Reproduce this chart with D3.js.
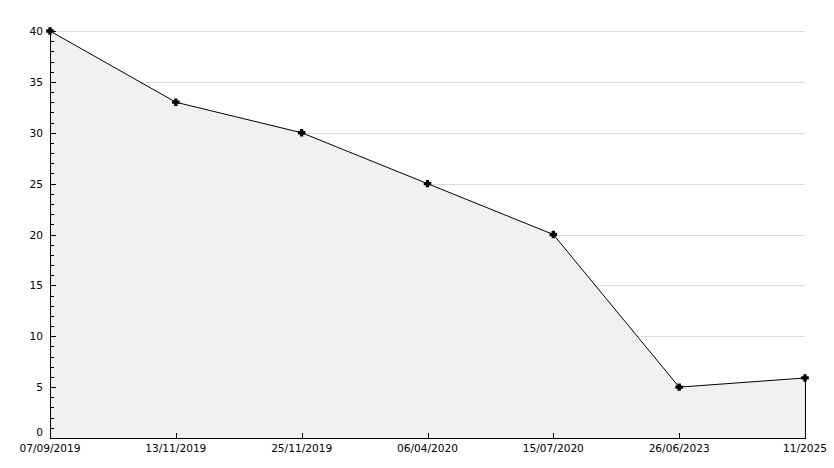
<!DOCTYPE html>
<html>
<head>
<meta charset="utf-8">
<script src="https://cdn.jsdelivr.net/npm/d3@7"></script>
<style>
html,body{margin:0;padding:0;background:#fff;}
svg{display:block;}
text{font-family:"DejaVu Sans",sans-serif;font-size:10.6px;fill:#000;}
</style>
</head>
<body>
<svg id="chart" width="834" height="468"></svg>
<script>
const categories = ["07/09/2019","13/11/2019","25/11/2019","06/04/2020","15/07/2020","26/06/2023","11/2025"];
const values = [40, 33, 30, 25, 20, 5, 5.9];
const yTicks = [0,5,10,15,20,25,30,35,40];

(function(){
const svg = d3.select("#chart");
const mLeft = 50, mRight = 805, mTop = 31, mBottom = 438;

const x = d3.scalePoint().domain(categories).range([mLeft, mRight]);
const y = d3.scaleLinear().domain([0, 40]).range([mBottom, mTop]);

// gridlines
svg.append("g").selectAll("line").data(yTicks.filter(d => d > 0)).join("line")
  .attr("x1", mLeft).attr("x2", mRight)
  .attr("y1", d => Math.round(y(d)) + 0.5).attr("y2", d => Math.round(y(d)) + 0.5)
  .attr("stroke", "#dcdcdc").attr("stroke-width", 1);

const data = categories.map((c, i) => ({c, v: values[i]}));

// area
const area = d3.area().x(d => x(d.c)).y0(y(0)).y1(d => y(d.v));
svg.append("path").datum(data).attr("d", area).attr("fill", "#f1f1f1");

// right edge
const lastX = x(categories[categories.length-1]);
svg.append("line")
  .attr("x1", lastX + 0.5).attr("x2", lastX + 0.5)
  .attr("y1", y(values[values.length-1])).attr("y2", y(0))
  .attr("stroke", "#000");

// line
const line = d3.line().x(d => x(d.c)).y(d => y(d.v));
svg.append("path").datum(data).attr("d", line).attr("fill", "none").attr("stroke", "#000").attr("stroke-width", 1);

// y axis
const yAxisG = svg.append("g");
yAxisG.append("line").attr("x1", mLeft + 0.5).attr("x2", mLeft + 0.5).attr("y1", mTop).attr("y2", mBottom).attr("stroke", "#000");
const minor = d3.range(0, 41, 1).filter(d => d % 5 !== 0);
yAxisG.selectAll(".minor").data(minor).join("line").attr("class","minor")
  .attr("x1", mLeft).attr("x2", mLeft + 4)
  .attr("y1", d => Math.round(y(d)) + 0.5).attr("y2", d => Math.round(y(d)) + 0.5)
  .attr("stroke", "#000");
yAxisG.selectAll(".major").data(yTicks).join("line").attr("class","major")
  .attr("x1", mLeft).attr("x2", mLeft + 6)
  .attr("y1", d => Math.round(y(d)) + 0.5).attr("y2", d => Math.round(y(d)) + 0.5)
  .attr("stroke", "#000");
yAxisG.selectAll("text").data(yTicks).join("text")
  .attr("x", mLeft - 7).attr("y", d => d === 0 ? y(d) - 2 : y(d) + 4)
  .attr("text-anchor", "end")
  .text(d => d);

// x axis
const xAxisG = svg.append("g");
xAxisG.append("line").attr("x1", mLeft).attr("x2", mRight + 1).attr("y1", mBottom + 0.5).attr("y2", mBottom + 0.5).attr("stroke", "#000");
xAxisG.selectAll(".xt").data(categories).join("line").attr("class","xt")
  .attr("x1", d => Math.round(x(d)) + 0.5).attr("x2", d => Math.round(x(d)) + 0.5)
  .attr("y1", mBottom - 5).attr("y2", mBottom)
  .attr("stroke", "#000");
xAxisG.selectAll("text").data(categories).join("text")
  .attr("x", d => x(d)).attr("y", mBottom + 14)
  .attr("text-anchor", "middle")
  .text(d => d);

// markers
const sym = d3.symbol().type(d3.symbolCross).size(22);
svg.append("g").selectAll("path").data(data).join("path")
  .attr("transform", d => `translate(${x(d.c)},${y(d.v)})`)
  .attr("d", sym).attr("fill", "#000").attr("stroke", "#000").attr("stroke-width", 1.2);
})();
</script>
</body>
</html>
